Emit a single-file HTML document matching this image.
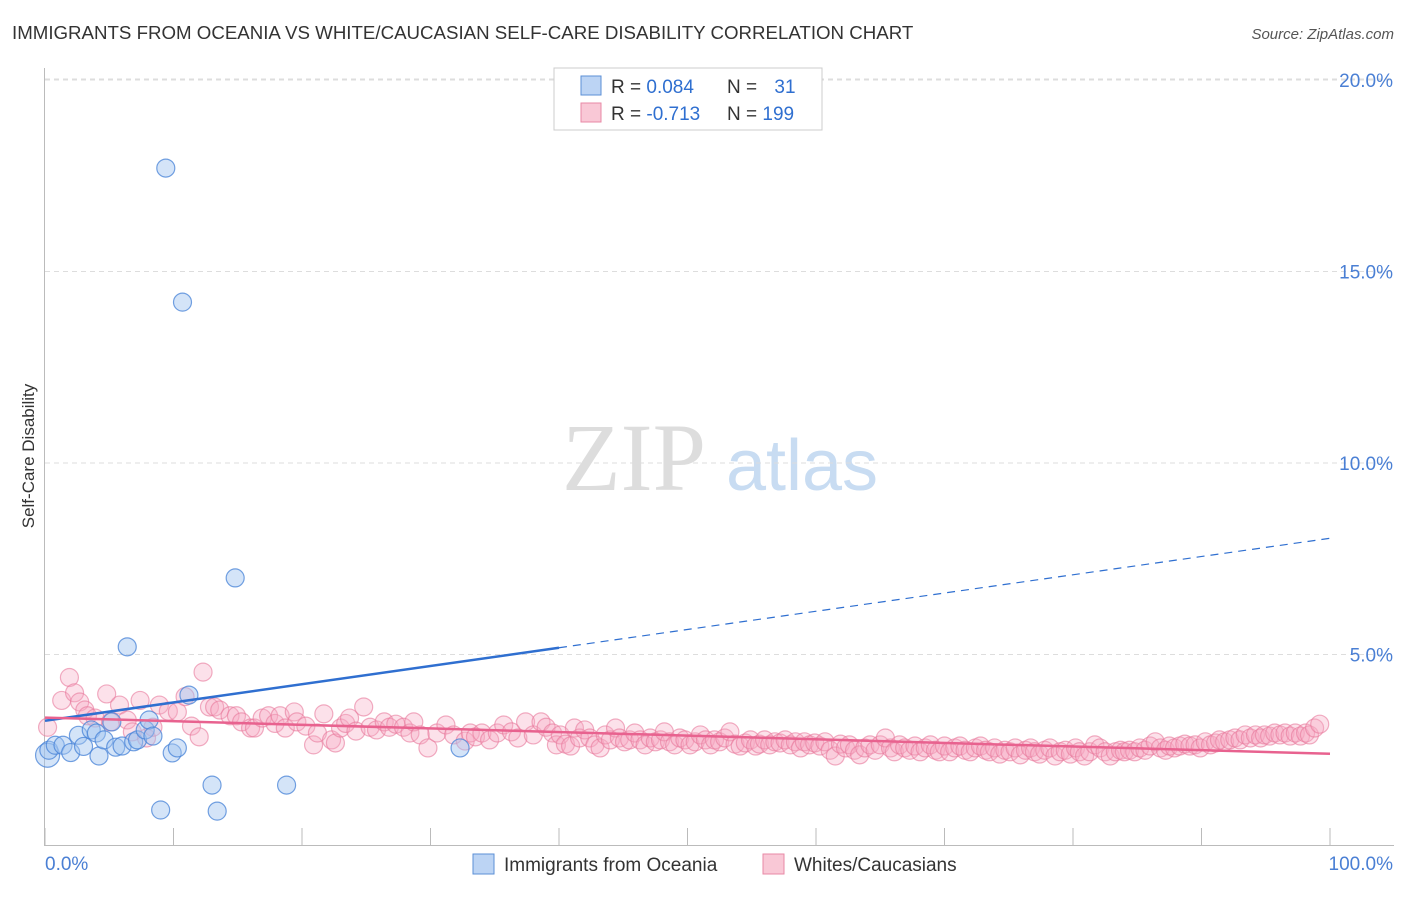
<!DOCTYPE html>
<html><head><meta charset="utf-8"><style>
body{margin:0;background:#fff;font-family:"Liberation Sans",sans-serif}
</style></head><body>
<svg id="chart" width="1406" height="892" xmlns="http://www.w3.org/2000/svg" font-family="Liberation Sans, sans-serif">
<text x="12" y="39" font-size="18.7" fill="#333">IMMIGRANTS FROM OCEANIA VS WHITE/CAUCASIAN SELF-CARE DISABILITY CORRELATION CHART</text>
<text x="1394" y="39" font-size="15" fill="#555" text-anchor="end" font-style="italic">Source: ZipAtlas.com</text>
<text transform="translate(34,456) rotate(-90)" font-size="17" fill="#333" text-anchor="middle">Self-Care Disability</text>
<g>
<text x="634" y="490" font-size="96" fill="#ddd" font-family="Liberation Serif, serif" text-anchor="middle">ZIP</text>
<text x="802" y="490" font-size="72" fill="#c8dcf2" text-anchor="middle">atlas</text>
</g>
<g id="grid"></g><g id="axes"></g><g id="pts"></g><g id="trends"></g>
<g>
<rect x="554" y="68" width="268" height="62" fill="#fff" stroke="#ccc"/>
<rect x="581" y="76" width="20" height="19" fill="#bcd4f4" stroke="#5b8fd6"/>
<text x="611" y="93" font-size="19" fill="#333">R = <tspan fill="#2f6fd0">0.084</tspan></text>
<text x="727" y="93" font-size="19" fill="#333">N = <tspan fill="#2f6fd0" dx="12">31</tspan></text>
<rect x="581" y="103" width="20" height="19" fill="#f9c8d6" stroke="#e889a6"/>
<text x="611" y="120" font-size="19" fill="#333">R = <tspan fill="#2f6fd0">-0.713</tspan></text>
<text x="727" y="120" font-size="19" fill="#333">N = <tspan fill="#2f6fd0">199</tspan></text>
</g>
<g>
<rect x="473" y="854" width="21" height="20" fill="#bcd4f4" stroke="#5b8fd6"/>
<text x="504" y="871" font-size="19" fill="#333">Immigrants from Oceania</text>
<rect x="763" y="854" width="21" height="20" fill="#f9c8d6" stroke="#e889a6"/>
<text x="794" y="871" font-size="19" fill="#333">Whites/Caucasians</text>
</g>
</svg>
<script>
const yTicks=[5,10,15,20];
const yTickLabels=["5.0%","10.0%","15.0%","20.0%"];
const xTickLabels=["0.0%","100.0%"];
const blueX=[0.2,0.3,0.8,1.4,2.0,2.6,3.0,3.6,4.0,4.2,4.6,5.2,5.5,6.0,6.4,6.9,7.2,7.8,8.1,8.4,9.0,9.4,9.9,10.3,10.7,11.2,13.0,13.4,14.8,18.8,32.3];
const blueY=[2.37,2.5,2.63,2.63,2.44,2.89,2.6,3.03,2.95,2.35,2.77,3.24,2.58,2.61,5.2,2.72,2.77,3.03,3.29,2.87,0.94,17.7,2.43,2.56,14.2,3.94,1.59,0.91,7.0,1.59,2.56];
const pinkX=[0.2,1.3,1.9,2.3,2.7,3.1,3.3,3.9,4.8,5.1,5.8,6.4,6.8,7.4,7.9,8.4,8.9,9.6,10.3,10.9,11.4,12.0,12.3,12.8,13.2,13.6,14.4,14.9,15.3,16.0,16.3,16.9,17.4,17.9,18.3,18.7,19.4,19.6,20.3,20.9,21.2,21.7,22.3,22.6,23.0,23.4,23.7,24.2,24.8,25.3,25.8,26.4,26.8,27.3,27.9,28.4,28.7,29.2,29.8,30.5,31.2,31.8,32.7,33.1,33.5,34.0,34.6,35.2,35.7,36.3,36.8,37.4,38.0,38.6,39.0,39.5,39.8,
40.1,40.5,40.9,41.2,41.6,42.0,42.4,42.8,43.2,43.6,44.0,44.4,44.7,45.1,45.5,45.9,46.3,46.7,47.1,47.5,47.9,48.2,48.6,49.0,49.4,49.8,50.2,50.6,51.0,51.4,51.8,52.1,52.5,52.9,53.3,53.7,54.1,54.5,54.9,55.3,55.6,56.0,56.4,56.8,57.2,57.6,58.0,58.4,58.8,59.1,59.5,59.9,60.3,60.7,61.1,61.5,61.9,62.3,62.6,63.0,63.4,63.8,64.2,64.6,65.0,65.4,65.8,66.1,66.5,66.9,67.3,67.7,68.1,68.5,68.9,69.3,69.6,70.0,70.4,70.8,71.2,71.6,72.0,72.4,72.8,73.2,73.5,73.9,74.3,74.7,75.1,75.5,75.9,76.3,76.7,77.0,77.4,77.8,78.2,78.6,79.0,79.4,79.8,80.2,80.5,80.9,81.3,81.7,82.1,82.5,82.9,83.3,83.7,84.0,84.4,84.8,85.2,85.6,86.0,86.4,86.8,87.2,87.5,87.9,88.3,88.7,89.1,89.5,89.9,90.3,90.7,91.1,91.4,91.8,92.2,92.6,93.0,93.4,93.8,94.2,94.6,94.9,95.3,95.7,96.1,96.5,96.9,97.3,97.7,98.1,98.4,98.8,99.2];
const pinkY=[3.1,3.8,4.4,4.0,3.76,3.55,3.4,3.34,3.97,3.24,3.68,3.29,2.98,3.8,2.82,3.1,3.68,3.52,3.5,3.9,3.13,2.85,4.54,3.63,3.63,3.55,3.4,3.4,3.24,3.08,3.08,3.34,3.4,3.2,3.4,3.08,3.5,3.24,3.13,2.64,2.95,3.45,2.77,2.69,3.08,3.2,3.34,3.0,3.63,3.1,3.03,3.24,3.1,3.18,3.1,2.95,3.24,2.9,2.56,2.95,3.16,2.9,2.74,2.95,2.85,2.95,2.77,2.95,3.16,2.98,2.82,3.24,2.9,3.24,3.1,2.95,2.64,
2.9,2.66,2.61,3.08,2.82,3.03,2.82,2.64,2.56,2.9,2.77,3.08,2.82,2.72,2.77,2.95,2.77,2.64,2.82,2.72,2.77,2.98,2.72,2.64,2.82,2.77,2.64,2.72,2.9,2.77,2.64,2.77,2.72,2.82,2.98,2.66,2.61,2.69,2.77,2.61,2.66,2.77,2.64,2.72,2.69,2.77,2.64,2.72,2.56,2.72,2.64,2.69,2.61,2.72,2.5,2.35,2.66,2.56,2.64,2.5,2.38,2.56,2.64,2.5,2.64,2.82,2.56,2.46,2.64,2.56,2.5,2.61,2.46,2.56,2.64,2.5,2.46,2.61,2.46,2.56,2.61,2.5,2.46,2.56,2.61,2.5,2.46,2.56,2.4,2.5,2.46,2.56,2.38,2.5,2.56,2.46,2.4,2.5,2.56,2.35,2.46,2.5,2.4,2.56,2.46,2.35,2.46,2.64,2.56,2.46,2.35,2.46,2.5,2.46,2.5,2.46,2.56,2.5,2.61,2.72,2.56,2.5,2.61,2.56,2.61,2.66,2.61,2.64,2.56,2.72,2.64,2.69,2.77,2.72,2.77,2.82,2.77,2.9,2.82,2.9,2.82,2.9,2.87,2.95,2.9,2.95,2.87,2.95,2.87,2.95,2.9,3.08,3.18];
const NS="http://www.w3.org/2000/svg";
const X0=45,X1=1330,Y0=846,PY=38.3;
const sx=v=>X0+(X1-X0)*v/100, sy=v=>Y0-v*PY;
function mk(t,a,p){const e=document.createElementNS(NS,t);for(const k in a)e.setAttribute(k,a[k]);p.appendChild(e);return e;}
const gridG=document.getElementById('grid'),axesG=document.getElementById('axes'),ptsG=document.getElementById('pts'),trG=document.getElementById('trends');
yTicks.forEach((t,i)=>{
 const l=mk('line',{x1:45,x2:1394,y1:sy(t),y2:sy(t),stroke:'#ddd','stroke-dasharray':'5,4'},gridG);
 
 
 const tx=mk('text',{x:1393,y:sy(t)+7,'font-size':19,fill:'#4a7fd4','text-anchor':'end'},axesG);
 tx.textContent=yTickLabels[i];
 
 
});
const topLine=mk('line',{x1:45,x2:1394,y1:79,y2:79,stroke:'#ddd','stroke-dasharray':'5,4'},gridG);


const ya=mk('line',{x1:44.5,x2:44.5,y1:68,y2:846,stroke:'#bbb'},axesG);


const xa=mk('line',{x1:45,x2:1394,y1:845.5,y2:845.5,stroke:'#bbb'},axesG);


for(let i=0;i<=10;i++){const tk=mk('line',{x1:sx(i*10),x2:sx(i*10),y1:828,y2:846,stroke:'#bbb'},axesG);
 
 }
const xl0=mk('text',{x:45,y:870,'font-size':19,fill:'#4a7fd4'},axesG);xl0.textContent=xTickLabels[0];


const xl1=mk('text',{x:1393,y:870,'font-size':19,fill:'#4a7fd4','text-anchor':'end'},axesG);xl1.textContent=xTickLabels[1];


pinkX.forEach((x,i)=>{const c=mk('circle',{cx:sx(x),cy:sy(pinkY[i]),r:9,fill:'rgba(246,170,195,0.35)',stroke:'rgba(232,120,155,0.6)','stroke-width':1.2},ptsG);
 
 });
blueX.forEach((x,i)=>{const c=mk('circle',{cx:sx(x),cy:sy(blueY[i]),r:i==0?12:9,fill:'rgba(160,195,240,0.45)',stroke:'rgba(70,130,215,0.75)','stroke-width':1.2},ptsG);
 
 });
function reg(xs,ys){const n=xs.length;let mx=0,my=0;xs.forEach((x,i)=>{mx+=x;my+=ys[i]});mx/=n;my/=n;let a=0,b=0;xs.forEach((x,i)=>{a+=(x-mx)*(ys[i]-my);b+=(x-mx)*(x-mx)});const s=a/b;return [s,my-s*mx];}
const [bs,bi]=reg(blueX,blueY);
const bl1=mk('line',{x1:sx(0),y1:sy(bi),x2:sx(40),y2:sy(bi+bs*40),stroke:'#2f6fd0','stroke-width':2.5},trG);


const bl2=mk('line',{x1:sx(40),y1:sy(bi+bs*40),x2:sx(100),y2:sy(bi+bs*100),stroke:'#2f6fd0','stroke-width':1.2,'stroke-dasharray':'8,6'},trG);


const [ps,pi]=reg(pinkX,pinkY);
const pl=mk('line',{x1:sx(0),y1:sy(pi),x2:sx(100),y2:sy(pi+ps*100),stroke:'#e8628f','stroke-width':2.5},trG);


</script>
</body></html>
